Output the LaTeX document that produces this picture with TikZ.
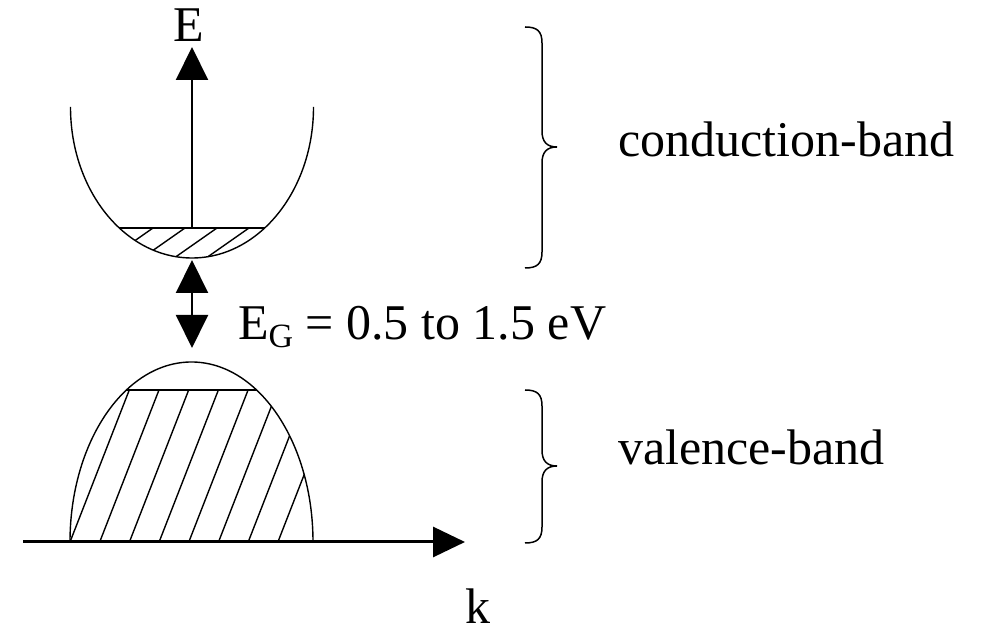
\documentclass[tikz,border=0pt]{standalone}
\usepackage{fontspec}
\setmainfont{Liberation Serif}
\usetikzlibrary{arrows.meta}
\tikzset{
  curve/.style={line width=1.4pt},
  hatch/.style={line width=1.4pt},
  kaxis/.style={line width=3pt,-{Triangle[length=32pt,width=30pt]}},
  eaxis/.style={line width=2pt,-{Triangle[length=33pt,width=32pt]}},
  gaparrow/.style={line width=2pt,{Triangle[length=33pt,width=32pt]}-{Triangle[length=33pt,width=32pt]}},
  bandbrace/.style={line width=1.5pt},
  lbl/.style={font=\fontsize{50}{60}\selectfont, inner sep=0pt},
}
\begin{document}
\begin{tikzpicture}[x=1pt,y=1pt]
\useasboundingbox (0,0) rectangle (987,636);
% coordinates
\coordinate (kstart) at (23,94);
\coordinate (kend) at (465,94);
\coordinate (ebase) at (192,408);
\coordinate (etip) at (192,589);
\coordinate (gtop) at (192,376);
\coordinate (gbot) at (192,288);

% conduction band
\draw[curve] (70.5,529) arc[start angle=180,end angle=360,x radius=121.5,y radius=151];
\begin{scope}
  \clip (70.5,529) arc[start angle=180,end angle=360,x radius=121.5,y radius=151] -- cycle;
  \clip (0,0) rectangle (400,408);
  \foreach \x in {121,153,185,217,249,281}
    \draw[hatch] (\x-80,408-56) -- (\x,408);
\end{scope}
\begin{scope}
  \clip (70.5,529) arc[start angle=180,end angle=360,x radius=121.5,y radius=151] -- cycle;
  \draw[hatch] (60,408) -- (320,408);
\end{scope}

% valence band
\draw[curve] (70,94) arc[start angle=180,end angle=0,x radius=121.5,y radius=180];
\begin{scope}
  \clip (70,94) arc[start angle=180,end angle=0,x radius=121.5,y radius=180] -- cycle;
  \clip (0,94) rectangle (400,246);
  \foreach \i in {0,...,7}
    \draw[hatch] ({70+29.7*\i},94) -- ({70+29.7*\i+0.39*170},{94+170});
\end{scope}
\begin{scope}
  \clip (70,94) arc[start angle=180,end angle=0,x radius=121.5,y radius=180] -- cycle;
  \draw[hatch] (60,246) -- (320,246);
\end{scope}

% axes and gap arrow
\draw[kaxis] (kstart) -- (kend);
\draw[eaxis] (ebase) -- (etip);
\draw[gaparrow] (gtop) -- (gbot);

% labels
\node[lbl, anchor=base] (Elbl) at (189,594) {E};
\node[lbl, anchor=base] (klbl) at (478,12) {k};
\node[lbl, anchor=base west] (eglbl) at (238,296)
  {E\raisebox{-8pt}{\fontsize{34}{34}\selectfont G} = 0.5 to 1.5 eV};
\node[lbl, anchor=base west] (cblbl) at (618,479) {conduction-band};
\node[lbl, anchor=base west] (vblbl) at (618,171) {valence-band};

% braces
\draw[bandbrace] (525,609) .. controls (537,609) and (542,605) .. (542,593)
  -- (542,505) .. controls (542,494) and (547,489) .. (557,489)
  .. controls (547,489) and (542,484) .. (542,473)
  -- (542,384) .. controls (542,372) and (537,368) .. (525,368);
\draw[bandbrace] (525,246) .. controls (537,246) and (542,242) .. (542,230)
  -- (542,186) .. controls (542,175) and (547,170) .. (557,170)
  .. controls (547,170) and (542,165) .. (542,154)
  -- (542,109) .. controls (542,97) and (537,93) .. (525,93);
\end{tikzpicture}
\end{document}
